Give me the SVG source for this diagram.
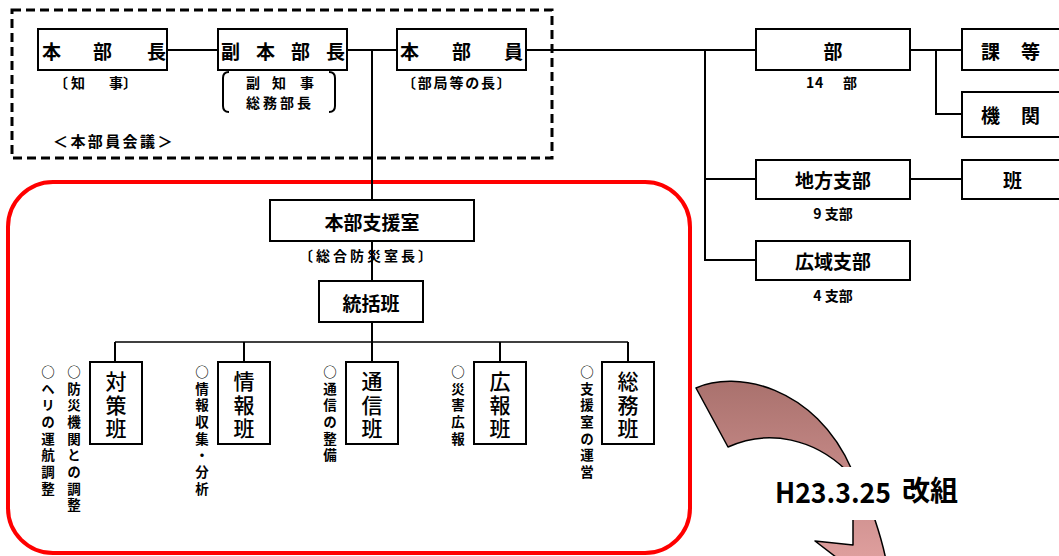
<svg xmlns="http://www.w3.org/2000/svg" width="1059" height="556" viewBox="0 0 1059 556">
<style>
.box{fill:#fff;stroke:#000;stroke-width:2}
.ln{fill:none;stroke:#000;stroke-width:2}
.t{font-family:"Noto Sans CJK JP","Noto Sans CJK SC",sans-serif;fill:#000}
.big{font-size:19px;font-weight:bold;dominant-baseline:central}
.sub{font-size:14px;font-weight:bold;dominant-baseline:central}
.v{writing-mode:vertical-rl;font-size:21px;font-weight:500;letter-spacing:2.5px}
.vs{writing-mode:vertical-rl;font-size:13.5px;font-weight:bold;letter-spacing:3.2px}
</style>
<defs>
<linearGradient id="ag" gradientUnits="userSpaceOnUse" x1="0" y1="380" x2="0" y2="556">
<stop offset="0" stop-color="#A9716D"/>
<stop offset="1" stop-color="#DE9E9D"/>
</linearGradient>
</defs>

<rect x="12" y="10" width="540" height="148" fill="none" stroke="#000" stroke-width="3" stroke-dasharray="9 5"/>
<rect x="8" y="182" width="682" height="371" rx="45" fill="none" stroke="#FF0000" stroke-width="4"/>

<g id="connectors" class="ln">
<path d="M167,50H218M347,50H397M526,50H756"/>
<path d="M372,50V200M372,241V281M372,322V342"/>
<path d="M115,342H628" stroke-width="1.6"/>
<path d="M115,342V362M244,342V362M372,342V362M500,342V362M628,342V362"/>
<path d="M705,50V260H756M705,179H756"/>
<path d="M910,50H962M936,50V114H962M910,179H962"/>
</g>

<g id="honbucho">
<rect class="box" x="38" y="29" width="129" height="41"/>
<text class="t big" x="42 93 147" y="50">本部長</text>
<text class="t sub" x="54 71 109 123" y="82">〔知事〕</text>
</g>

<g id="fukuhonbucho">
<rect class="box" x="218" y="29" width="129" height="41"/>
<text class="t big" x="221 256 291 326" y="50">副本部長</text>
<path d="M229,72Q223,72 223,78V106Q223,112 229,112M329,72Q335,72 335,78V106Q335,112 329,112" fill="none" stroke="#000" stroke-width="2"/>
<text class="t sub" x="246 272 300" y="82">副知事</text>
<text class="t sub" x="246 263 280 297" y="102">総務部長</text>
</g>

<text class="t" x="53" y="140" font-size="15" font-weight="bold" letter-spacing="2.4" dominant-baseline="central">＜本部員会議＞</text>

<g id="honbuin">
<rect class="box" x="397" y="29" width="129" height="41"/>
<text class="t big" x="400 452 504" y="50">本部員</text>
<text class="t sub" x="402" y="82" letter-spacing="1.8">〔部局等の長〕</text>
</g>

<g id="bu">
<rect class="box" x="756" y="29" width="154" height="41"/>
<text class="t big" x="833" y="50" text-anchor="middle">部</text>
<text class="t sub" x="806 815 843" y="82">14部</text>
</g>

<g id="kato">
<rect class="box" x="962" y="29" width="120" height="41"/>
<text class="t big" x="981 1021" y="50">課等</text>
</g>

<g id="kikan">
<rect class="box" x="962" y="92" width="120" height="45"/>
<text class="t big" x="981 1021" y="114">機関</text>
</g>

<g id="chihoshibu">
<rect class="box" x="756" y="160" width="154" height="39"/>
<text class="t big" x="833" y="179" text-anchor="middle">地方支部</text>
<text class="t sub" x="833" y="213" text-anchor="middle">9 支部</text>
</g>

<g id="han">
<rect class="box" x="962" y="160" width="120" height="39"/>
<text class="t big" x="1003" y="179">班</text>
</g>

<g id="koikishibu">
<rect class="box" x="756" y="241" width="154" height="39"/>
<text class="t big" x="833" y="260" text-anchor="middle">広域支部</text>
<text class="t sub" x="833" y="295" text-anchor="middle">4 支部</text>
</g>

<g id="shienshitsu">
<rect class="box" x="270" y="200" width="204" height="41"/>
<text class="t big" x="372" y="221" text-anchor="middle" font-size="20">本部支援室</text>
<text class="t sub" x="367" y="255" text-anchor="middle" letter-spacing="3">〔総合防災室長〕</text>
</g>

<g id="tokatsuhan">
<rect class="box" x="319" y="281" width="104" height="41"/>
<text class="t big" x="371" y="302" text-anchor="middle" font-size="20">統括班</text>
</g>

<g id="taisakuhan">
<rect class="box" x="90" y="362" width="52" height="82"/>
<text class="t v" x="116" y="371">対策班</text>
<text class="t vs" x="74" y="365">○防災機関との調整</text>
<text class="t vs" x="48" y="365">○ヘリの運航調整</text>
</g>

<g id="johohan">
<rect class="box" x="218" y="362" width="52" height="82"/>
<text class="t v" x="244" y="371">情報班</text>
<text class="t vs" x="202" y="365">○情報収集・分析</text>
</g>

<g id="tsushinhan">
<rect class="box" x="346" y="362" width="52" height="82"/>
<text class="t v" x="372" y="371">通信班</text>
<text class="t vs" x="330" y="365">○通信の整備</text>
</g>

<g id="kohohan">
<rect class="box" x="474" y="362" width="52" height="82"/>
<text class="t v" x="500" y="371">広報班</text>
<text class="t vs" x="458" y="365">○災害広報</text>
</g>

<g id="somuhan">
<rect class="box" x="602" y="362" width="52" height="82"/>
<text class="t v" x="628" y="371">総務班</text>
<text class="t vs" x="587" y="365">○支援室の運営</text>
</g>

<g id="arrow">
<path d="M696,388C735,370 815,385 852,470L875,520C880,535 883,545 886,560L892,600L815,541L853,545L853,520L846,470C815,440 770,428 728,447Z" fill="url(#ag)" stroke="#000" stroke-width="1.5" stroke-linejoin="round"/>
<rect x="768" y="467" width="195" height="53" fill="#fff"/>
<text class="t" x="775" y="503" font-size="28" font-weight="bold" textLength="116" lengthAdjust="spacingAndGlyphs">H23.3.25</text>
<text class="t" x="902" y="501" font-size="28" font-weight="bold">改組</text>
</g>
</svg>
